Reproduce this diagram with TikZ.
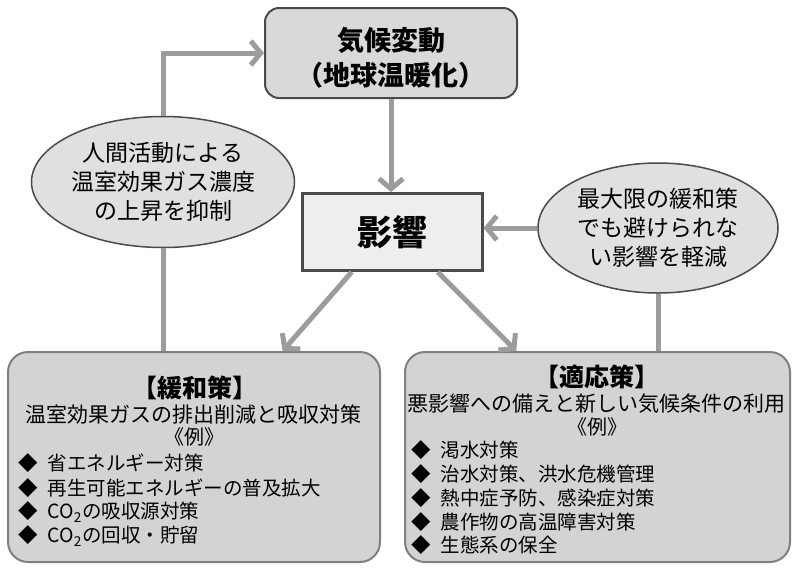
\documentclass[tikz,border=0pt]{standalone}
\usepackage{fontspec}
\setmainfont{Noto Sans CJK JP}
\usetikzlibrary{shapes.geometric,arrows.meta,calc}
\definecolor{arrowgray}{HTML}{9C9C9C}
\definecolor{topfill}{HTML}{D9D9D9}
\definecolor{ellfill}{HTML}{E0E0E0}
\definecolor{eikfill}{HTML}{EEEEEE}
\definecolor{boxfill}{HTML}{D3D3D3}
\definecolor{boxline}{HTML}{808080}
\definecolor{darkline}{HTML}{4A4A4A}
\tikzset{
  conn/.style={draw=arrowgray, line width=5pt},
  arr/.style={conn, -{Straight Barb[length=10pt,width=24pt]}},
  topbox/.style={draw=darkline, fill=topfill, line width=2pt, rounded corners=14pt,
    minimum width=252pt, minimum height=90pt, inner sep=0pt},
  ell/.style={ellipse, draw=darkline, fill=ellfill, line width=1.5pt, inner sep=0pt,
    align=center, font=\fontsize{23}{29}\selectfont},
  eikbox/.style={draw=darkline, fill=eikfill, line width=3pt, minimum width=180pt,
    minimum height=77pt, inner sep=0pt, font=\fontsize{35}{40}\selectfont\bfseries},
  bigbox/.style={draw=boxline, fill=boxfill, line width=2pt, rounded corners=20pt,
    minimum height=210pt, inner sep=0pt},
  head/.style={inner sep=0pt, font=\fontsize{25}{28}\selectfont\bfseries},
  sub/.style={inner sep=0pt, font=\fontsize{21}{24}\selectfont},
  rei/.style={inner sep=0pt, font=\fontsize{20}{22}\selectfont},
  item/.style={inner sep=0pt, anchor=west, font=\fontsize{19.5}{22}\selectfont},
}
\begin{document}
\begin{tikzpicture}[x=1pt,y=-1pt]
\useasboundingbox (0,0) rectangle (800,573);
% nodes
\node[topbox] (top) at (391,53) {};
\node[inner sep=0pt, font=\fontsize{27}{30}\selectfont\bfseries] (t1) at (391,40) {気候変動};
\node[inner sep=0pt, font=\fontsize{27}{30}\selectfont\bfseries] (t2) at (391,75) {（地球温暖化）};
\node[ell, minimum width=263pt, minimum height=131pt] (lell) at (163,182)
  {人間活動による\\温室効果ガス濃度\\の上昇を抑制};
\node[ell, minimum width=240pt, minimum height=130pt] (rell) at (658,228)
  {最大限の緩和策\\でも避けられな\\い影響を軽減};
\node[eikbox] (eik) at (392,232) {影響};
\node[bigbox, minimum width=372pt] (mit) at (194,457) {};
\node[bigbox, minimum width=385pt] (ada) at (597.5,457) {};
% left box text
\node[head] (mh) at (195,388) {【緩和策】};
\node[sub] (ms) at (193,415) {温室効果ガスの排出削減と吸収対策};
\node[rei] (mr) at (194,437) {《例》};
\node[item] (m1) at (18,463) {◆\hspace{10pt}省エネルギー対策};
\node[item] (m2) at (18,488) {◆\hspace{10pt}再生可能エネルギーの普及拡大};
\node[item] (m3) at (18,512) {◆\hspace{10pt}CO\textsubscript{2}の吸収源対策};
\node[item] (m4) at (18,536) {◆\hspace{10pt}CO\textsubscript{2}の回収・貯留};
% right box text
\node[head] (ah) at (597,377) {【適応策】};
\node[sub] (as) at (596,404) {悪影響への備えと新しい気候条件の利用};
\node[rei] (ar) at (597,427) {《例》};
\node[item] (a1) at (411,450) {◆\hspace{10pt}渇水対策};
\node[item] (a2) at (411,474) {◆\hspace{10pt}治水対策、洪水危機管理};
\node[item] (a3) at (411,498) {◆\hspace{10pt}熱中症予防、感染症対策};
\node[item] (a4) at (411,522) {◆\hspace{10pt}農作物の高温障害対策};
\node[item] (a5) at (411,545) {◆\hspace{10pt}生態系の保全};
% connectors
\coordinate (eL) at ($(eik.south west)!0.28!(eik.south east)$);
\coordinate (eR) at ($(eik.south west)!0.75!(eik.south east)$);
\coordinate (mT) at ($(mit.north west)!0.737!(mit.north east)$);
\coordinate (aT) at ($(ada.north west)!0.29!(ada.north east)$);
\draw[conn] (mit.north -| lell.center) -- (lell.south);
\draw[arr] (lell.north) |- (top.west);
\draw[arr] (top.south) -- (top.south |- eik.north);
\draw[arr] (eL) -- (mT);
\draw[arr] (eR) -- (aT);
\draw[conn] (rell.south) -- (rell.south |- ada.north);
\draw[arr] (rell.west) -- (rell.west -| eik.east);
\end{tikzpicture}
\end{document}
